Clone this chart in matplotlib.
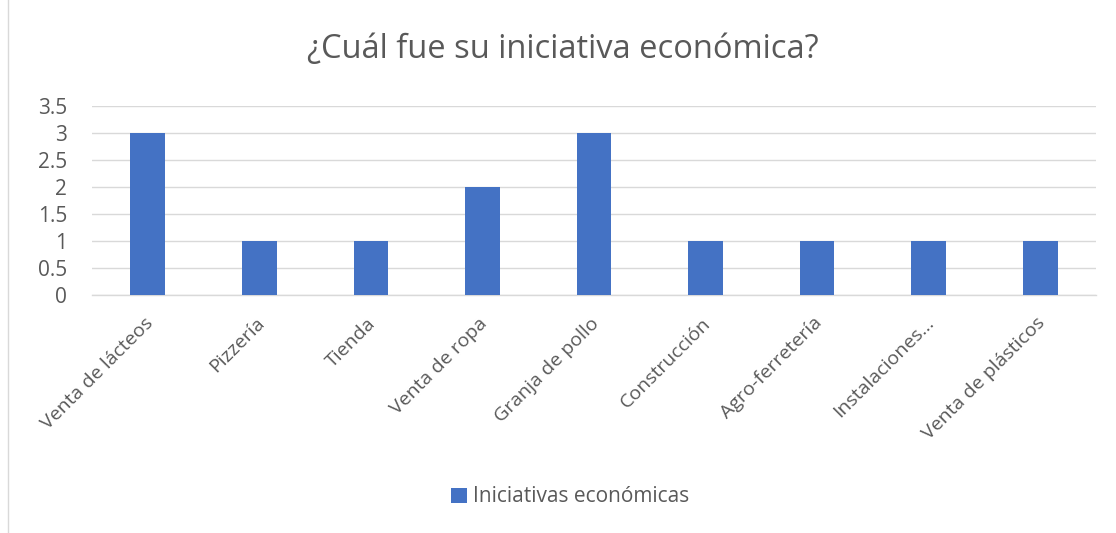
import matplotlib
matplotlib.use("Agg")
import matplotlib.pyplot as plt
from matplotlib.patches import Rectangle
import matplotlib.transforms as mtransforms

categories = ["Venta de lácteos", "Pizzería", "Tienda", "Venta de ropa", "Granja de pollo",
              "Construcción", "Agro-ferretería", "Instalaciones…", "Venta de plásticos"]
values = [3, 1, 1, 2, 3, 1, 1, 1, 1]
yticks = [0, 0.5, 1, 1.5, 2, 2.5, 3, 3.5]
ytick_labels = ["0", "0.5", "1", "1.5", "2", "2.5", "3", "3.5"]
series_name = "Iniciativas económicas"
title = "¿Cuál fue su iniciativa económica?"

plt.rcParams['font.family'] = ['Open Sans', 'DejaVu Sans']
text_color = "#595959"
bar_color = "#4472C4"

fig = plt.figure(figsize=(11.16, 5.33), dpi=100)
fig.patches.append(Rectangle((8/1116, -0.01), 1.5, 1.5, transform=fig.transFigure,
                             fill=False, edgecolor="#d9d9d9", linewidth=1))
ax = fig.add_axes([92/1116, 1-295/533, (1096-92)/1116, (295-106)/533])

x = list(range(len(categories)))
ax.bar(x, values, width=0.31, color=bar_color, zorder=3, label=series_name)
ax.set_xlim(-0.5, len(categories)-0.5)
ax.set_ylim(0, 3.5)
ax.set_yticks(yticks)
ax.set_yticklabels(ytick_labels)
ax.yaxis.grid(True, color="#d9d9d9", linewidth=1, zorder=0)
ax.set_axisbelow(True)
for s in ["top", "right", "left"]:
    ax.spines[s].set_visible(False)
ax.spines["bottom"].set_color("#d9d9d9")
ax.spines["bottom"].set_linewidth(1)
ax.tick_params(axis="y", length=0, labelsize=15, colors=text_color, pad=18)
ax.tick_params(axis="x", length=0, labelsize=14, colors=text_color, pad=8)
ax.set_xticks(x)
ax.set_xticklabels(categories, rotation=45, ha="right", va="top", rotation_mode="anchor")
offset = mtransforms.ScaledTranslation(-4/100, -8/100, fig.dpi_scale_trans)
for lbl in ax.get_xticklabels():
    lbl.set_transform(lbl.get_transform() + offset)

fig.text(0.504, 1-50/533, title, ha="center", va="center", fontsize=23.5, color=text_color)
fig.legend(loc="center", bbox_to_anchor=(0.511, 1-497/533), frameon=False, fontsize=15,
           labelcolor=text_color, handlelength=0.75, handleheight=0.75, handletextpad=0.3)

fig.savefig("out.png", dpi=100)
